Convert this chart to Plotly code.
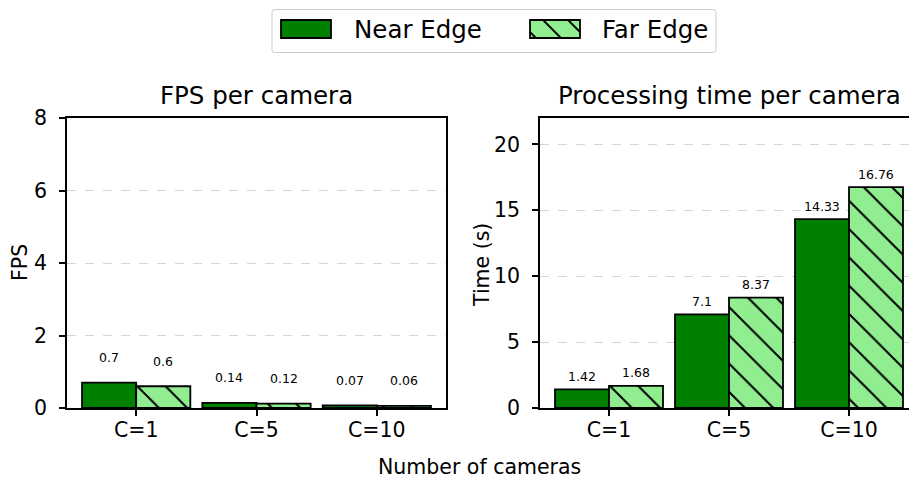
import plotly.graph_objects as go

# Data
categories = ["C=1", "C=5", "C=10"]
fps_near = [0.7, 0.14, 0.07]
fps_far = [0.6, 0.12, 0.06]
time_near = [1.42, 7.1, 14.33]
time_far = [1.68, 8.37, 16.76]
fps_ticks = [0, 2, 4, 6, 8]
time_ticks = [0, 5, 10, 15, 20]
series_names = ["Near Edge", "Far Edge"]

W, H = 909, 480
NEAR = "#008000"
FAR = "#90ee90"
FONT = "DejaVu Sans"
BAR_W = 0.45
EDGE = dict(color="black", width=1.8)
HATCH = dict(shape="\\", fgcolor="black", bgcolor=FAR, size=20,
             solidity=0.1, fillmode="replace")


def px(x):
    return x / W


def py(y):
    return 1 - y / H


pos = list(range(len(categories)))
fig = go.Figure()
annotations = []


def add_panel(near, far, xa, ya, label_shift):
    fig.add_trace(go.Bar(x=pos, y=near, width=BAR_W, offset=-BAR_W,
                         marker=dict(color=NEAR, line=EDGE),
                         xaxis=xa, yaxis=ya, showlegend=False,
                         name=series_names[0]))
    fig.add_trace(go.Bar(x=pos, y=far, width=BAR_W, offset=0,
                         marker=dict(color=FAR, line=EDGE, pattern=HATCH),
                         xaxis=xa, yaxis=ya, showlegend=False,
                         name=series_names[1]))
    for i, (a, b) in enumerate(zip(near, far)):
        for xv, v in ((i - BAR_W / 2, a), (i + BAR_W / 2, b)):
            annotations.append(dict(
                x=xv, y=v, xref=xa, yref=ya, text=f"{v:g}", showarrow=False,
                yshift=label_shift, xanchor="center", yanchor="middle",
                font=dict(family=FONT, size=12.5, color="black")))


add_panel(fps_near, fps_far, "x", "y", 25)
add_panel(time_near, time_far, "x2", "y2", 13)

axis_common = dict(
    showline=True, linecolor="black", linewidth=1.5,
    ticks="outside", ticklen=6, tickwidth=1.5, tickcolor="black",
    tickfont=dict(family=FONT, size=20.5, color="black"),
    zeroline=False,
)
ydom = [0.15, py(118)]

fig.update_layout(
    width=W, height=H,
    margin=dict(l=0, r=0, t=0, b=0, autoexpand=False),
    paper_bgcolor="white", plot_bgcolor="white",
    barmode="overlay",
    showlegend=False,
    xaxis=dict(domain=[px(67), px(446)], range=[-0.575, 2.575],
               tickvals=pos, ticktext=categories, showgrid=False,
               mirror=True, anchor="y", ticklabelstandoff=-3, **axis_common),
    yaxis=dict(domain=ydom, range=[0, 8], tickvals=fps_ticks,
               showgrid=True, gridcolor="#d6d6d6", griddash="dash",
               gridwidth=1.2, mirror=True, anchor="x",
               ticklabelstandoff=8, **axis_common),
    xaxis2=dict(domain=[px(540), 1], range=[-0.575, 2.5],
                tickvals=pos, ticktext=categories, showgrid=False,
                mirror=True, anchor="y2", ticklabelstandoff=-3, **axis_common),
    yaxis2=dict(domain=ydom, range=[0, 22], tickvals=time_ticks,
                showgrid=True, gridcolor="#d6d6d6", griddash="dash",
                gridwidth=1.2, mirror=False, anchor="x2",
                ticklabelstandoff=8, **axis_common),
)

# Titles and axis labels
text_items = [
    ("FPS per camera", 256.5, 96, 24.5, 0),
    ("Processing time per camera", 729, 96, 24.5, 0),
    ("FPS", 20, 263, 20.5, -90),
    ("Time (s)", 482, 265, 20.5, -90),
    ("Number of cameras", 480, 467, 20.5, 0),
]
for txt, x, y, size, ang in text_items:
    annotations.append(dict(
        x=px(x), y=py(y), xref="paper", yref="paper", text=txt,
        showarrow=False, xanchor="center", yanchor="middle", textangle=ang,
        font=dict(family=FONT, size=size, color="black")))

# Legend box drawn at the top of the figure
shapes = []
bx0, by0, bx1, by1, r = 272, 9.5, 716, 52.5, 3
path = (f"M {px(bx0 + r)},{py(by0)} L {px(bx1 - r)},{py(by0)} "
        f"Q {px(bx1)},{py(by0)} {px(bx1)},{py(by0 + r)} "
        f"L {px(bx1)},{py(by1 - r)} Q {px(bx1)},{py(by1)} {px(bx1 - r)},{py(by1)} "
        f"L {px(bx0 + r)},{py(by1)} Q {px(bx0)},{py(by1)} {px(bx0)},{py(by1 - r)} "
        f"L {px(bx0)},{py(by0 + r)} Q {px(bx0)},{py(by0)} {px(bx0 + r)},{py(by0)} Z")
shapes.append(dict(type="path", xref="paper", yref="paper", path=path,
                   line=dict(color="#cccccc", width=1), fillcolor="white"))

patch_y0, patch_y1 = 20, 38
legend_items = [(281, 331, NEAR, False, 352), (530, 580, FAR, True, 600)]
for (x0, x1, col, hatched, tx), name in zip(legend_items, series_names):
    shapes.append(dict(type="rect", xref="paper", yref="paper",
                       x0=px(x0), x1=px(x1), y0=py(patch_y1), y1=py(patch_y0),
                       fillcolor=col, line=dict(width=0)))
    if hatched:
        hgt = patch_y1 - patch_y0
        start = x0 - hgt + 6
        while start < x1:
            sx0, sy0 = start, patch_y0
            sx1, sy1 = start + hgt, patch_y1
            if sx0 < x0:
                sy0 += x0 - sx0
                sx0 = x0
            if sx1 > x1:
                sy1 -= sx1 - x1
                sx1 = x1
            if sx1 > sx0:
                shapes.append(dict(type="line", xref="paper", yref="paper",
                                   x0=px(sx0), y0=py(sy0), x1=px(sx1), y1=py(sy1),
                                   line=dict(color="black", width=1.8)))
            start += 25
    shapes.append(dict(type="rect", xref="paper", yref="paper",
                       x0=px(x0), x1=px(x1), y0=py(patch_y1), y1=py(patch_y0),
                       fillcolor="rgba(0,0,0,0)", line=EDGE))
    annotations.append(dict(
        x=px(tx), y=py(29), xref="paper", yref="paper", text=name,
        showarrow=False, xanchor="left", yanchor="middle",
        font=dict(family=FONT, size=24.5, color="black")))

fig.update_layout(annotations=annotations, shapes=shapes)
fig.write_html("out.html")
